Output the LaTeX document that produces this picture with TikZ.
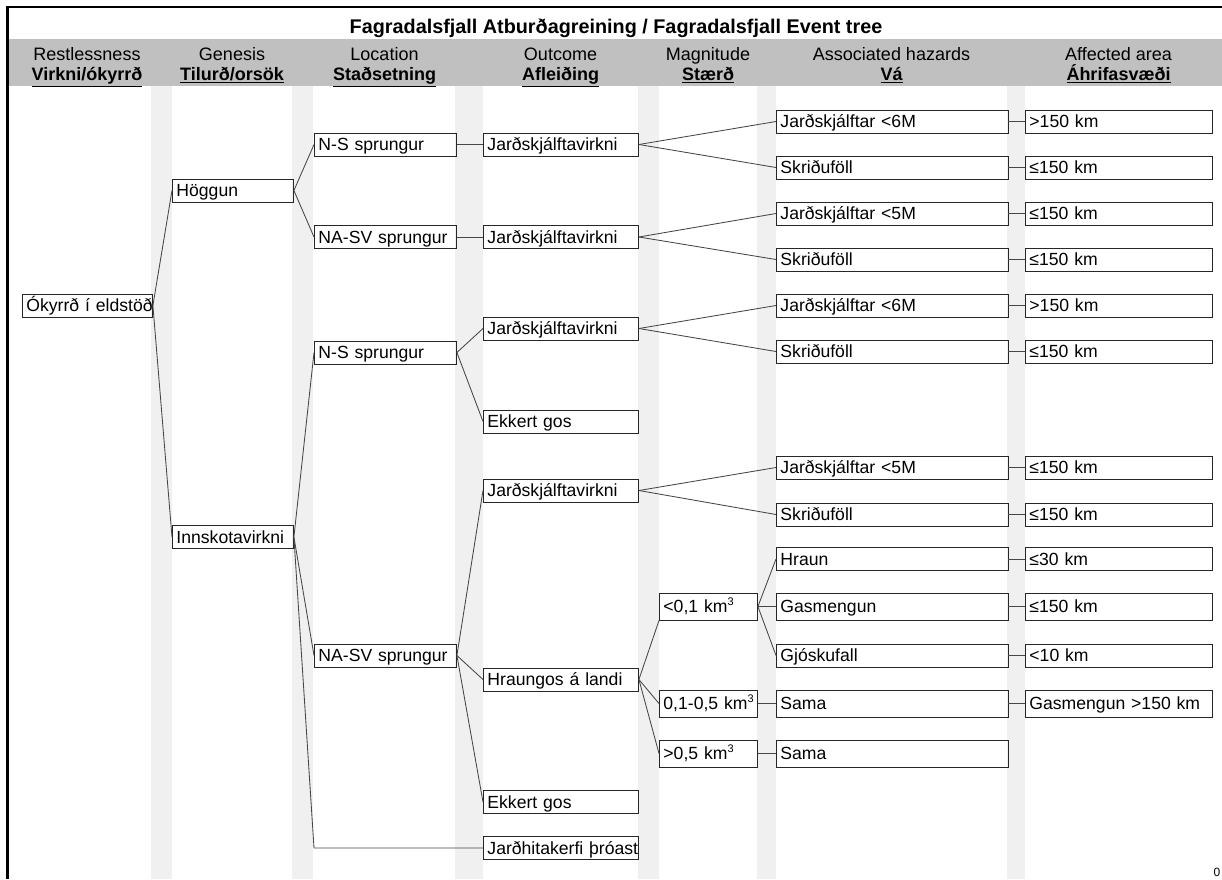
\documentclass[tikz,border=0pt]{standalone}
\usepackage{fontspec}
\setmainfont{Liberation Sans}
\definecolor{hdrgray}{RGB}{192,192,192}
\definecolor{stripegray}{RGB}{240,240,240}
\definecolor{linkgray}{RGB}{70,70,70}
\newcommand{\cubed}{\raisebox{7.5pt}{\fontsize{11}{12}\selectfont 3}}

\begin{document}
\begin{tikzpicture}[x=1pt,y=-1pt,
      cell/.style={draw=black!85,line width=0.9pt,anchor=west,
        inner xsep=4pt,inner ysep=0pt,minimum height=23pt,
        text height=12.6pt,text depth=0pt,
        font=\fontsize{17.6}{20}\selectfont,
        execute at begin node={\leavevmode\hbox\bgroup},
        execute at end node={\egroup}},
      c1/.style={cell,text width=122pt},
      c2/.style={cell,text width=113pt},
      c3/.style={cell,text width=134pt},
      c4/.style={cell,text width=147pt},
      c5/.style={cell,text width=90pt},
      c6/.style={cell,text width=223.5pt},
      c7/.style={cell,text width=179pt},
      tall/.style={minimum height=27pt},
      link/.style={draw=linkgray,line width=0.85pt},
      hdtop/.style={anchor=base,font=\fontsize{18}{21}\selectfont},
      hdbot/.style={anchor=base,font=\bfseries\fontsize{18}{21}\selectfont}]

  \useasboundingbox (0,0) rectangle (1222,879);

  % background: header band and column gaps
  \fill[hdrgray] (8,39) rectangle (1222,86);
  \foreach \a/\b in {151/172,292/313,455/483,638/659,757/776,1007/1025}
    \fill[stripegray] (\a,86) rectangle (\b,879);
  \draw[line width=2.4pt] (7.5,879) -- (7.5,7) -- (1222,7);

  \node[anchor=base,font=\bfseries\fontsize{19.8}{23}\selectfont] (title) at (616,33)
    {Fagradalsfjall Atburðagreining / Fagradalsfjall Event tree};

  \foreach \x/\top/\bot [count=\i] in {87/Restlessness/{Virkni/ókyrrð},
      232/Genesis/{Tilurð/orsök}, 384.5/Location/Staðsetning,
      560.5/Outcome/Afleiðing, 708/Magnitude/Stærð,
      891.5/Associated hazards/Vá, 1118.5/Affected area/Áhrifasvæði}{
    \node[hdtop] (hd\i) at (\x,60.7) {\top};
    \node[hdbot] (hb\i) at (\x,80.7) {\underline{\bot}};
  }

  % restlessness and genesis
  \node[c1] (okyrrd) at (22,305.5) {Ókyrrð í eldstöð};
  \node[c2] (hoggun) at (172,190.5) {Höggun};
  \node[c2] (innskot) at (172,537) {Innskotavirkni};

  % location
  \node[c3] (ns1) at (314,144.5) {N-S sprungur};
  \node[c3] (nasv1) at (314,237) {NA-SV sprungur};
  \node[c3] (ns2) at (314,352.5) {N-S sprungur};
  \node[c3] (nasv2) at (314,655.5) {NA-SV sprungur};

  % outcome
  \node[c4] (jsv1) at (483,144.5) {Jarðskjálftavirkni};
  \node[c4] (jsv2) at (483,237) {Jarðskjálftavirkni};
  \node[c4] (jsv3) at (483,328.5) {Jarðskjálftavirkni};
  \node[c4] (ekk1) at (483,421.5) {Ekkert gos};
  \node[c4] (jsv4) at (483,490.5) {Jarðskjálftavirkni};
  \node[c4] (hraungos) at (483,679.5) {Hraungos á landi};
  \node[c4] (ekk2) at (483,802) {Ekkert gos};
  \node[c4] (jhk) at (483,848) {Jarðhitakerfi þróast};

  % magnitude
  \node[c5,tall] (mag1) at (659,606.5) {<0,1 km\cubed};
  \node[c5,tall] (mag2) at (659,703.5) {0,1-0,5 km\cubed};
  \node[c5,tall] (mag3) at (659,753.5) {>0,5 km\cubed};

  % associated hazards
  \node[c6] (hz1) at (776,121.5) {Jarðskjálftar <6M};
  \node[c6] (hz2) at (776,167.5) {Skriðuföll};
  \node[c6] (hz3) at (776,213.5) {Jarðskjálftar <5M};
  \node[c6] (hz4) at (776,259.5) {Skriðuföll};
  \node[c6] (hz5) at (776,305.5) {Jarðskjálftar <6M};
  \node[c6] (hz6) at (776,351.5) {Skriðuföll};
  \node[c6] (hz7) at (776,467.5) {Jarðskjálftar <5M};
  \node[c6] (hz8) at (776,514.5) {Skriðuföll};
  \node[c6] (hz9) at (776,559) {Hraun};
  \node[c6,tall] (hz10) at (776,606.5) {Gasmengun};
  \node[c6] (hz11) at (776,655.5) {Gjóskufall};
  \node[c6,tall] (hz12) at (776,703.5) {Sama};
  \node[c6,tall] (hz13) at (776,753.5) {Sama};

  % affected area
  \node[c7] (ar1) at (1025,121.5) {>150 km};
  \node[c7] (ar2) at (1025,167.5) {≤150 km};
  \node[c7] (ar3) at (1025,213.5) {≤150 km};
  \node[c7] (ar4) at (1025,259.5) {≤150 km};
  \node[c7] (ar5) at (1025,305.5) {>150 km};
  \node[c7] (ar6) at (1025,351.5) {≤150 km};
  \node[c7] (ar7) at (1025,467.5) {≤150 km};
  \node[c7] (ar8) at (1025,514.5) {≤150 km};
  \node[c7] (ar9) at (1025,559) {≤30 km};
  \node[c7,tall] (ar10) at (1025,606.5) {≤150 km};
  \node[c7] (ar11) at (1025,655.5) {<10 km};
  \node[c7,tall] (ar12) at (1025,703.5) {Gasmengun >150 km};

  \node[anchor=base,font=\fontsize{12}{14}\selectfont] (pgnum) at (1217,876) {0};

  % branches
  \foreach \p/\c in {okyrrd/hoggun,okyrrd/innskot,hoggun/ns1,hoggun/nasv1,
      innskot/ns2,innskot/nasv2,ns1/jsv1,nasv1/jsv2,ns2/jsv3,ns2/ekk1,
      nasv2/jsv4,nasv2/hraungos,nasv2/ekk2,jsv1/hz1,jsv1/hz2,jsv2/hz3,
      jsv2/hz4,jsv3/hz5,jsv3/hz6,jsv4/hz7,jsv4/hz8,hraungos/mag2,
      hraungos/mag3,mag1/hz9,mag1/hz10,mag1/hz11,mag2/hz12,mag3/hz13}
    \draw[link] (\p.east) -- (\c.west);
  \foreach \i in {1,...,12}
    \draw[link] (hz\i.east) -- (ar\i.west);
  \draw[link] (hraungos.east) -- (mag1.south west);
  \draw[link] (innskot.east) -- (nasv2.west |- jhk.west) -- (jhk.west);
\end{tikzpicture}
\end{document}
